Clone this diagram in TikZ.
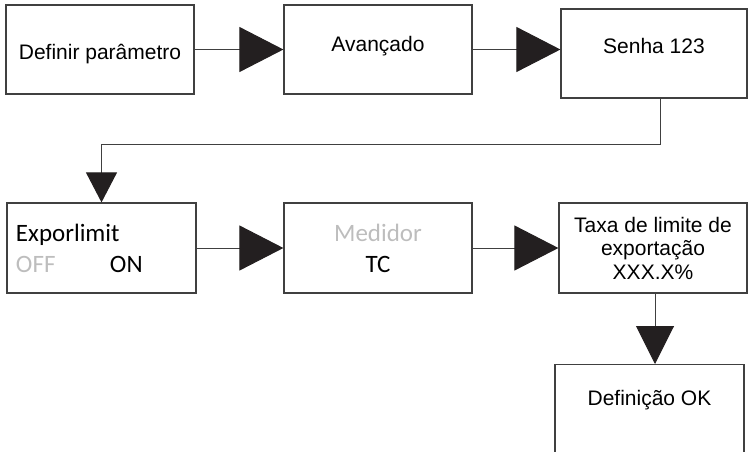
\documentclass[tikz,border=0pt]{standalone}
\usepackage{fontspec}
\setmainfont{Liberation Sans}
\newfontfamily\calfont{Carlito}
\usepackage{xcolor}
\usetikzlibrary{arrows.meta,positioning}
\definecolor{linegray}{HTML}{404040}
\definecolor{tipblack}{HTML}{231F20}
\definecolor{offgray}{HTML}{BDBDBD}

\begin{document}
\begin{tikzpicture}[
  x=1pt, y=-1pt,
  flownode/.style={rectangle, draw=linegray, line width=1.2pt, minimum width=188pt, minimum height=89pt, inner sep=0pt, align=center, font=\fontsize{21}{23.5}\selectfont},
  calnode/.style={flownode, font=\calfont\fontsize{25}{31}\selectfont},
  flowarrow/.style={draw=linegray, line width=1pt, -{Triangle[length=44pt, width=45pt, color=tipblack]}}
]
\useasboundingbox (0,0) rectangle (748,451);
\clip (0,0) rectangle (748,451);

% linha superior
\node[flownode, text height=25pt] (def) at (100,49.5) {Definir parâmetro};
\node[flownode, text depth=12pt] (adv) at (378,49.5) {Avançado};
\node[flownode, text depth=15pt, minimum width=186pt] (senha) at (654,53.5) {Senha 123};

% linha inferior
\node[calnode, align=left, text width=171pt, inner xsep=9pt, minimum width=189pt, minimum height=90pt] (expo) at (101.5,248) {Exporlimit\\\makebox[94pt][l]{\textcolor{offgray}{OFF}}ON};
\node[calnode, minimum height=90pt] (med) at (378,248) {\textcolor{offgray}{Medidor}\\TC};
\node[flownode, minimum height=90pt] (taxa) at (653,248) {Taxa de limite de\\exportação\\XXX.X\%};
\node[flownode, anchor=north, text height=15pt, text depth=80pt, inner ysep=26pt, minimum width=189pt] (ok) at (649.5,364) {Definição OK};

% setas
\draw[flowarrow] (def) -- (adv);
\draw[flowarrow] (adv.east) -- (adv.east -| senha.west);
\draw[flowarrow, -{Triangle[length=30pt, width=31pt, color=tipblack]}] ([xshift=6pt]senha.south) -- ++(0,46) -| (expo.north);
\draw[flowarrow] (expo) -- (med);
\draw[flowarrow] (med) -- (taxa);
\draw[flowarrow, -{Triangle[length=38pt, width=38pt, color=tipblack]}] ([xshift=2pt]taxa.south) -- ([xshift=2pt]taxa.south |- ok.north);

\end{tikzpicture}
\end{document}
